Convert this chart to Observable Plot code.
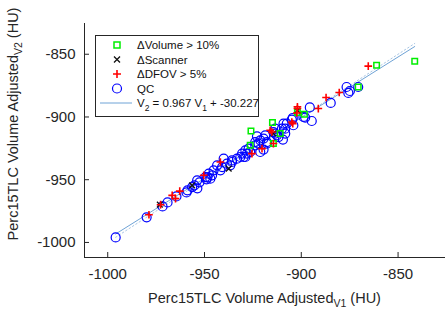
<!DOCTYPE html>
<html><head><meta charset="utf-8">
<script src="https://cdn.jsdelivr.net/npm/d3@7"></script>
<script src="https://cdn.jsdelivr.net/npm/@observablehq/plot@0.6"></script>
<style>
body{margin:0;background:#fff;font-family:"Liberation Sans",Arial,sans-serif;}
#wrap{position:relative;width:445px;height:311px;}
</style></head><body><div id="wrap"></div>
<script>
// QC points (V1, V2)
const qcV1 = [-995.9,-979.9,-971.7,-969.1,-964.5,-959.3,-958.8,-955.2,-953.7,-952.6,-949.0,-948.5,-953.8,-956.4,-949.5,-947.8,-946.1,-947.0,-945.3,-941.8,-943.5,-940.1,-938.4,-935.8,-933.2,-931.5,-928.9,-928.1,-927.2,-923.8,-922.9,-921.2,-918.6,-913.5,-917.8,-926.4,-929.8,-921.2,-919.5,-922.1,-917.8,-919.5,-911.8,-913.5,-908.3,-910.0,-909.2,-904.4,-904.1,-907.5,-904.9,-908.3,-909.5,-895.6,-894.6,-898.0,-884.8,-876.6,-875.7,-874.9,-870.6,-914.4,-912.6,-940.9,-935.8,-930.6,-928.9,-923.8,-898.9,-936.7];
const qcV2 = [-996.0,-980.0,-971.3,-968.1,-963.3,-960.1,-958.5,-954.5,-956.9,-952.1,-949.7,-948.1,-950.5,-955.9,-947.9,-945.2,-946.5,-949.2,-942.5,-942.5,-938.5,-933.2,-937.2,-934.6,-933.2,-931.9,-931.9,-929.2,-925.2,-922.6,-915.4,-918.6,-914.6,-913.2,-921.2,-927.9,-931.9,-927.9,-926.0,-921.2,-920.0,-917.2,-916.0,-909.3,-913.2,-909.3,-905.3,-900.8,-906.6,-905.3,-902.1,-909.3,-918.0,-892.4,-903.2,-900.5,-888.8,-876.1,-880.8,-879.3,-876.1,-912.0,-914.6,-939.9,-935.9,-929.2,-926.6,-920.0,-900.0,-938.5];
// ΔDFOV > 5%
const dfovV1 = [-978.7,-972.7,-966.7,-965.0,-962.8,-950.4,-941.8,-925.5,-920.3,-914.4,-915.2,-916.1,-904.9,-902.0,-902.0,-902.3,-904.4,-891.2,-887.2,-880.4,-865.4];
const dfovV2 = [-977.9,-969.9,-962.5,-965.1,-959.1,-946.5,-935.9,-929.2,-925.2,-921.2,-912.0,-910.6,-904.0,-893.3,-891.9,-896.8,-905.3,-893.3,-884.5,-880.5,-859.5];
// ΔVolume > 10%
const volV1 = [-926.0,-914.9,-898.4,-902.0,-914.4,-926.4,-910.9,-870.6,-861.1,-841.4];
const volV2 = [-911.2,-904.5,-897.8,-896.5,-921.2,-922.6,-913.2,-876.1,-858.7,-855.5];
// ΔScanner
const scanV1 = [-973.1,-902.0,-914.4,-937.5,-956.4];
const scanV2 = [-969.9,-894.7,-913.2,-941.2,-954.5];

const fitSlope = 0.967, fitIntercept = -30.227;
const xTicks = [-1000,-950,-900,-850];
const yTicks = [-1000,-950,-900,-850];
const axisDomain = [-1012, -825.5];
const legendLabels = ["\u0394Volume > 10%", "\u0394Scanner", "\u0394DFOV > 5%", "QC"];

const zip = (a, b) => a.map((x, i) => ({x, y: b[i]}));
const qc = zip(qcV1, qcV2), dfov = zip(dfovV1, dfovV2), vol = zip(volV1, volV2), scan = zip(scanV1, scanV2);
const allX = [...qcV1, ...dfovV1, ...volV1, ...scanV1];
const xr = d3.extent(allX);
const fitLine = xr.map(x => ({x, y: fitSlope * x + fitIntercept}));
const idLine = xr.map(x => ({x, y: x}));

const W = 445, H = 311, mL = 84, mR = 0, mT = 23, mB = 54;
const innerW = W - mL - mR, innerH = H - mT - mB;
const fmt = d => String(d);

const plot = Plot.plot({
  width: W, height: H, marginLeft: mL, marginRight: mR, marginTop: mT, marginBottom: mB,
  style: {fontFamily: "Liberation Sans, Arial, sans-serif", fontSize: "15px", color: "#262626", background: "white", overflow: "visible"},
  x: {domain: axisDomain},
  y: {domain: axisDomain},
  marks: [
    Plot.axisX({ticks: xTicks, tickSize: 0, tickPadding: 11, tickFormat: fmt, label: null, fontSize: 15}),
    Plot.axisY({ticks: yTicks, tickSize: 0, tickPadding: 9, tickFormat: fmt, label: null, fontSize: 15}),
    Plot.ruleX(xTicks, {insetTop: innerH - 5, stroke: "#262626"}),
    Plot.ruleY(yTicks, {insetRight: innerW - 5, stroke: "#262626"}),
    Plot.ruleX([axisDomain[0]], {stroke: "#262626"}),
    Plot.ruleY([axisDomain[0]], {stroke: "#262626"}),
    Plot.line(idLine, {x: "x", y: "y", stroke: "#a9c6e4", strokeWidth: 1, strokeDasharray: "1.5,2.5"}),
    Plot.line(fitLine, {x: "x", y: "y", stroke: "#6fa3d6", strokeWidth: 1}),
    Plot.dot(qc, {x: "x", y: "y", r: 4.5, stroke: "#0000ff", fill: "none", strokeWidth: 1.2}),
    Plot.dot(vol, {x: "x", y: "y", symbol: "square", r: 3.1, stroke: "#00ee00", fill: "none", strokeWidth: 1.5}),
    Plot.dot(scan, {x: "x", y: "y", symbol: "times", r: 2.7, stroke: "#111", fill: "none", strokeWidth: 1.3}),
    Plot.dot(dfov, {x: "x", y: "y", symbol: "plus", r: 2.6, stroke: "#ff0000", fill: "none", strokeWidth: 1.6})
  ]
});
document.getElementById("wrap").appendChild(plot);

const svg = d3.select(plot);
const font = "Liberation Sans, Arial, sans-serif";
// x label
const xl = svg.append("text").attr("x", mL + innerW / 2).attr("y", 303).attr("text-anchor", "middle")
  .attr("font-family", font).attr("font-size", 14.5).attr("fill", "#262626");
xl.append("tspan").text("Perc15TLC Volume Adjusted");
xl.append("tspan").attr("font-size", 10.5).attr("dy", 4).text("V1");
xl.append("tspan").attr("dy", -4).text(" (HU)");
// y label
const yl = svg.append("text").attr("transform", "translate(18,124) rotate(-90)").attr("text-anchor", "middle")
  .attr("font-family", font).attr("font-size", 14.5).attr("fill", "#262626");
yl.append("tspan").text("Perc15TLC Volume Adjusted");
yl.append("tspan").attr("font-size", 10.5).attr("dy", 4).text("V2");
yl.append("tspan").attr("dy", -4).text(" (HU)");

// legend
const lg = svg.append("g").attr("font-family", font).attr("font-size", 11.5).attr("fill", "#111").attr("text-anchor", "start");
lg.append("rect").attr("x", 95.5).attr("y", 35.5).attr("width", 163).attr("height", 81).attr("fill", "white").attr("stroke", "#262626");
const rowsY = [45, 59.5, 74, 88.5, 103];
const sx = 117, tx = 137;
lg.append("rect").attr("x", sx - 3).attr("y", rowsY[0] - 3).attr("width", 6).attr("height", 6).attr("fill", "none").attr("stroke", "#00ee00").attr("stroke-width", 1.5);
lg.append("path").attr("d", `M${sx-3},${rowsY[1]-3}L${sx+3},${rowsY[1]+3}M${sx-3},${rowsY[1]+3}L${sx+3},${rowsY[1]-3}`).attr("stroke", "#111").attr("stroke-width", 1.3);
lg.append("path").attr("d", `M${sx-4},${rowsY[2]}H${sx+4}M${sx},${rowsY[2]-4}V${rowsY[2]+4}`).attr("stroke", "#ff0000").attr("stroke-width", 1.6);
lg.append("circle").attr("cx", sx).attr("cy", rowsY[3]).attr("r", 4.5).attr("fill", "none").attr("stroke", "#0000ff").attr("stroke-width", 1.2);
lg.append("line").attr("x1", 100).attr("x2", 132).attr("y1", rowsY[4]).attr("y2", rowsY[4]).attr("stroke", "#6fa3d6");
legendLabels.forEach((t, i) => lg.append("text").attr("x", tx).attr("y", rowsY[i]).attr("dy", "0.35em").text(t));
const eq = lg.append("text").attr("x", tx).attr("y", rowsY[4]).attr("dy", "0.35em");
eq.append("tspan").text("V");
eq.append("tspan").attr("font-size", 8.5).attr("dy", 3.5).text("2");
eq.append("tspan").attr("dy", -3.5).text(` = ${fitSlope} V`);
eq.append("tspan").attr("font-size", 8.5).attr("dy", 3.5).text("1");
eq.append("tspan").attr("dy", -3.5).text(` + ${fitIntercept}`);
</script></body></html>
